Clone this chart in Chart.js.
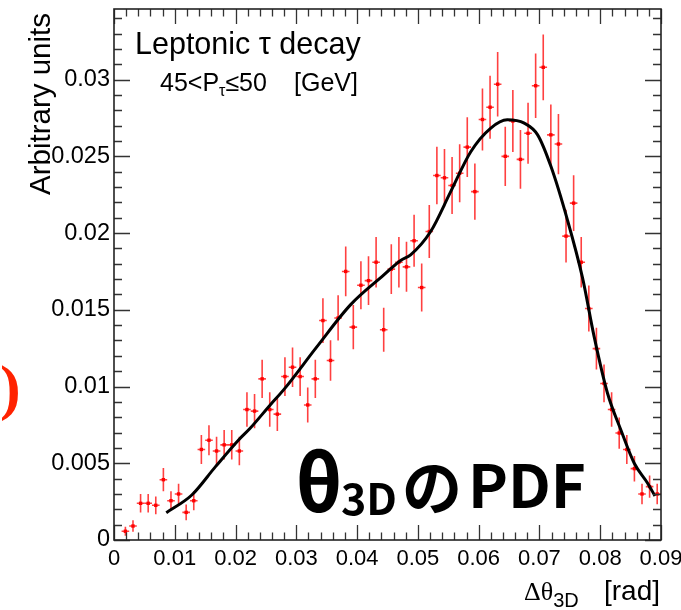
<!DOCTYPE html>
<html>
<head>
<meta charset="utf-8">
<script src="https://cdn.jsdelivr.net/npm/chart.js@4.4.1/dist/chart.umd.min.js"></script>
<style>
  html, body { margin: 0; padding: 0; background: #fff; }
  #c { display: block; }
</style>
</head>
<body>
<canvas id="c" width="681" height="610"></canvas>
<script>
// histogram bin centres (bin width 0.00125) and contents
var binCenters = [
  0.001875, 0.003125, 0.004375, 0.005625, 0.006875, 0.008125, 0.009375, 0.010625,
  0.011875, 0.013125, 0.014375, 0.015625, 0.016875, 0.018125, 0.019375, 0.020625,
  0.021875, 0.023125, 0.024375, 0.025625, 0.026875, 0.028125, 0.029375, 0.030625,
  0.031875, 0.033125, 0.034375, 0.035625, 0.036875, 0.038125, 0.039375, 0.040625,
  0.041875, 0.043125, 0.044375, 0.045625, 0.046875, 0.048125, 0.049375, 0.050625,
  0.051875, 0.053125, 0.054375, 0.055625, 0.056875, 0.058125, 0.059375, 0.060625,
  0.061875, 0.063125, 0.064375, 0.065625, 0.066875, 0.068125, 0.069375, 0.070625,
  0.071875, 0.073125, 0.074375, 0.075625, 0.076875, 0.078125, 0.079375, 0.080625,
  0.081875, 0.083125, 0.084375, 0.085625, 0.086875, 0.088125, 0.089375
];
var binValues = [
  0.00057, 0.00091, 0.00239, 0.00239, 0.00226, 0.00393, 0.00256, 0.0030,
  0.0018, 0.00256, 0.0059, 0.0065, 0.0058, 0.0062, 0.0062, 0.0058,
  0.0085, 0.0084, 0.0105, 0.0085, 0.0082, 0.01065, 0.01126, 0.01065,
  0.0088, 0.0105, 0.0143, 0.0117, 0.01447, 0.0175, 0.01387, 0.0166,
  0.0169, 0.0181, 0.0137, 0.01765, 0.0181, 0.0178, 0.0195, 0.01645,
  0.0201, 0.02375, 0.0236, 0.0231, 0.0239, 0.0256, 0.0227, 0.0274,
  0.0282, 0.0297, 0.0250, 0.0273, 0.0248, 0.0265, 0.0296, 0.0308,
  0.0264, 0.0258, 0.0198, 0.02195, 0.0181, 0.01508, 0.01247, 0.0102,
  0.0085, 0.00697, 0.0059, 0.00465, 0.0030, 0.00348, 0.0030
];
var binErrors = [
  0.00029, 0.00037, 0.0006, 0.0006, 0.00058, 0.00076, 0.00062, 0.00067,
  0.00052, 0.00062, 0.00094, 0.00098, 0.00093, 0.00096, 0.00096, 0.00093,
  0.00112, 0.00112, 0.00125, 0.00112, 0.0011, 0.00126, 0.00129, 0.00126,
  0.00114, 0.00125, 0.00146, 0.00132, 0.00147, 0.00162, 0.00144, 0.00157,
  0.00159, 0.00164, 0.00143, 0.00162, 0.00164, 0.00163, 0.0017, 0.00156,
  0.00173, 0.00188, 0.00187, 0.00185, 0.00189, 0.00195, 0.00184, 0.00202,
  0.00205, 0.0021, 0.00193, 0.00202, 0.00192, 0.00199, 0.0021, 0.00214,
  0.00198, 0.00196, 0.00172, 0.00181, 0.00164, 0.0015, 0.00136, 0.00123,
  0.00112, 0.00102, 0.00094, 0.00083, 0.00067, 0.00072, 0.00067
];
var halfBin = 0.000625;

// fitted PDF curve
var fitX = [0.0086, 0.0128, 0.0167, 0.0205, 0.0224, 0.0257, 0.0279, 0.0334, 0.0389,
  0.0444, 0.0471, 0.0488, 0.0521, 0.0554, 0.0587, 0.062, 0.0647, 0.0675, 0.0697,
  0.0719, 0.0746, 0.0771, 0.079, 0.0812, 0.0834, 0.0856, 0.0878, 0.089];
var fitY = [0.00178, 0.00293, 0.00478, 0.00652, 0.00728, 0.0088, 0.00978, 0.0126, 0.01532,
  0.01727, 0.0182, 0.01858, 0.0201, 0.0227, 0.0253, 0.02684, 0.02738, 0.02716, 0.0264,
  0.02433, 0.02086, 0.01706, 0.01325, 0.00956, 0.00717, 0.005, 0.0037, 0.00287];

var xTickValues = [0, 0.01, 0.02, 0.03, 0.04, 0.05, 0.06, 0.07, 0.08, 0.09];
var xTickLabels = ['0', '0.01', '0.02', '0.03', '0.04', '0.05', '0.06', '0.07', '0.08', '0.09'];
var yTickValues = [0, 0.005, 0.01, 0.015, 0.02, 0.025, 0.03];
var yTickLabels = ['0', '0.005', '0.01', '0.015', '0.02', '0.025', '0.03'];
var xMax = 0.09;
var yMax = 0.0346;

var sans = 'Liberation Sans, Arial, Helvetica, sans-serif';

function runText(ctx, x, y, runs) {
  runs.forEach(function (r) {
    ctx.font = r.font;
    ctx.fillText(r.t, x, y + (r.dy || 0));
    x += ctx.measureText(r.t).width;
  });
  return x;
}

var rootStyle = {
  id: 'rootStyle',
  beforeDatasetsDraw: function (chart) {
    var ctx = chart.ctx, xs = chart.scales.x, ys = chart.scales.y, a = chart.chartArea;
    ctx.save();
    ctx.strokeStyle = 'rgba(255,0,0,0.75)';
    ctx.lineWidth = 1.6;
    for (var i = 0; i < binValues.length; i++) {
      var px = xs.getPixelForValue(binCenters[i]);
      var py = ys.getPixelForValue(binValues[i]);
      var top = Math.max(a.top, ys.getPixelForValue(binValues[i] + binErrors[i]));
      var bot = Math.min(a.bottom, ys.getPixelForValue(binValues[i] - binErrors[i]));
      ctx.beginPath();
      ctx.moveTo(px, top); ctx.lineTo(px, bot);
      ctx.moveTo(xs.getPixelForValue(binCenters[i] - halfBin), py);
      ctx.lineTo(xs.getPixelForValue(binCenters[i] + halfBin), py);
      ctx.stroke();
    }
    ctx.restore();
  },
  afterDatasetsDraw: function (chart) {
    var ctx = chart.ctx, xs = chart.scales.x, ys = chart.scales.y, a = chart.chartArea;
    ctx.save();
    ctx.strokeStyle = '#333';
    ctx.lineWidth = 1.3;
    ctx.beginPath();
    // x ticks, every 0.002, major every 0.01
    for (var i = 0; i <= 45; i++) {
      var px = Math.round(xs.getPixelForValue(i * 0.002)) + 0.5;
      var len = (i % 5 === 0) ? 15 : 7.5;
      ctx.moveTo(px, a.bottom); ctx.lineTo(px, a.bottom - len);
      ctx.moveTo(px, a.top); ctx.lineTo(px, a.top + len);
    }
    // y ticks, every 0.001, major every 0.005
    for (var j = 0; j <= 34; j++) {
      var py = Math.round(ys.getPixelForValue(j * 0.001)) + 0.5;
      var l2 = (j % 5 === 0) ? 16 : 8;
      ctx.moveTo(a.left, py); ctx.lineTo(a.left + l2, py);
      ctx.moveTo(a.right, py); ctx.lineTo(a.right - l2, py);
    }
    ctx.stroke();
    ctx.lineWidth = 1.6;
    ctx.strokeStyle = '#222';
    ctx.strokeRect(a.left, a.top, a.right - a.left, a.bottom - a.top);
    ctx.restore();
  },
  afterDraw: function (chart) {
    var ctx = chart.ctx;
    ctx.save();
    ctx.fillStyle = '#000';
    ctx.textBaseline = 'alphabetic';

    // y axis title
    ctx.save();
    ctx.translate(50, 13);
    ctx.rotate(-Math.PI / 2);
    ctx.textAlign = 'right';
    ctx.font = '29.5px ' + sans;
    ctx.fillText('Arbitrary units', 0, 0);
    ctx.restore();

    // x axis title
    ctx.textAlign = 'left';
    runText(ctx, 524, 600, [
      { t: 'Δθ', font: '26px Liberation Serif, serif' },
      { t: '3D', font: '20px ' + sans, dy: 7 }
    ]);
    ctx.textAlign = 'right';
    ctx.font = '28px ' + sans;
    ctx.fillText('[rad]', 660, 600);
    ctx.textAlign = 'left';

    // legend text
    ctx.font = '30.5px ' + sans;
    ctx.fillText('Leptonic τ decay', 135, 54);
    runText(ctx, 160, 91, [
      { t: '45<P', font: '25px ' + sans },
      { t: 'τ', font: '16px ' + sans, dy: 5 },
      { t: '≤50', font: '25px ' + sans }
    ]);
    ctx.font = '25px ' + sans;
    ctx.fillText('[GeV]', 294, 91);

    // overlay label
    var jp = '"Noto Sans CJK JP", sans-serif';
    ctx.font = 'bold 78px ' + jp;
    ctx.fillText('θ', 295, 512);
    ctx.font = 'bold 43px ' + jp;
    ctx.fillText('3D', 341, 515);
    ctx.font = 'bold 60px ' + jp;
    ctx.fillText('の', 402, 510);
    ctx.fillText('PDF', 468, 508);

    // cropped red glyph at left edge
    ctx.fillStyle = '#ff2200';
    ctx.font = 'bold 62px Liberation Serif, serif';
    ctx.fillText(')', 0, 408);
    ctx.restore();
  }
};

new Chart(document.getElementById('c'), {
  type: 'scatter',
  data: {
    datasets: [{
      data: fitX.map(function (x, i) { return { x: x, y: fitY[i] }; }),
      showLine: true,
      borderColor: '#000',
      borderWidth: 3,
      pointRadius: 0,
      cubicInterpolationMode: 'monotone',
      fill: false
    }, {
      data: binCenters.map(function (x, i) { return { x: x, y: binValues[i] }; }),
      pointStyle: 'rect',
      pointRadius: 2.4,
      backgroundColor: '#ff0000',
      borderWidth: 0
    }]
  },
  options: {
    responsive: false,
    animation: false,
    devicePixelRatio: 1,
    layout: { padding: { top: 9, right: 20, bottom: 0, left: 0 } },
    plugins: { legend: { display: false }, tooltip: { enabled: false } },
    scales: {
      x: {
        type: 'linear', min: 0, max: xMax,
        grid: { display: false, drawTicks: false },
        border: { display: false },
        ticks: {
          color: '#000', padding: 6, maxRotation: 0, autoSkip: false,
          font: { family: sans, size: 22 },
          callback: function (v, i) { return xTickLabels[i]; }
        },
        afterBuildTicks: function (s) { s.ticks = xTickValues.map(function (v) { return { value: v }; }); },
        afterFit: function (s) { s.height = 70; s.paddingLeft = 0; s.paddingRight = 0; }
      },
      y: {
        type: 'linear', min: 0, max: yMax,
        grid: { display: false, drawTicks: false },
        border: { display: false },
        ticks: {
          color: '#000', padding: 4, autoSkip: false,
          font: { family: sans, size: 23.5 },
          callback: function (v, i) { return yTickLabels[i]; }
        },
        afterBuildTicks: function (s) { s.ticks = yTickValues.map(function (v) { return { value: v }; }); },
        afterFit: function (s) { s.width = 114; s.paddingTop = 0; s.paddingBottom = 0; }
      }
    }
  },
  plugins: [rootStyle]
});
</script>
</body>
</html>
